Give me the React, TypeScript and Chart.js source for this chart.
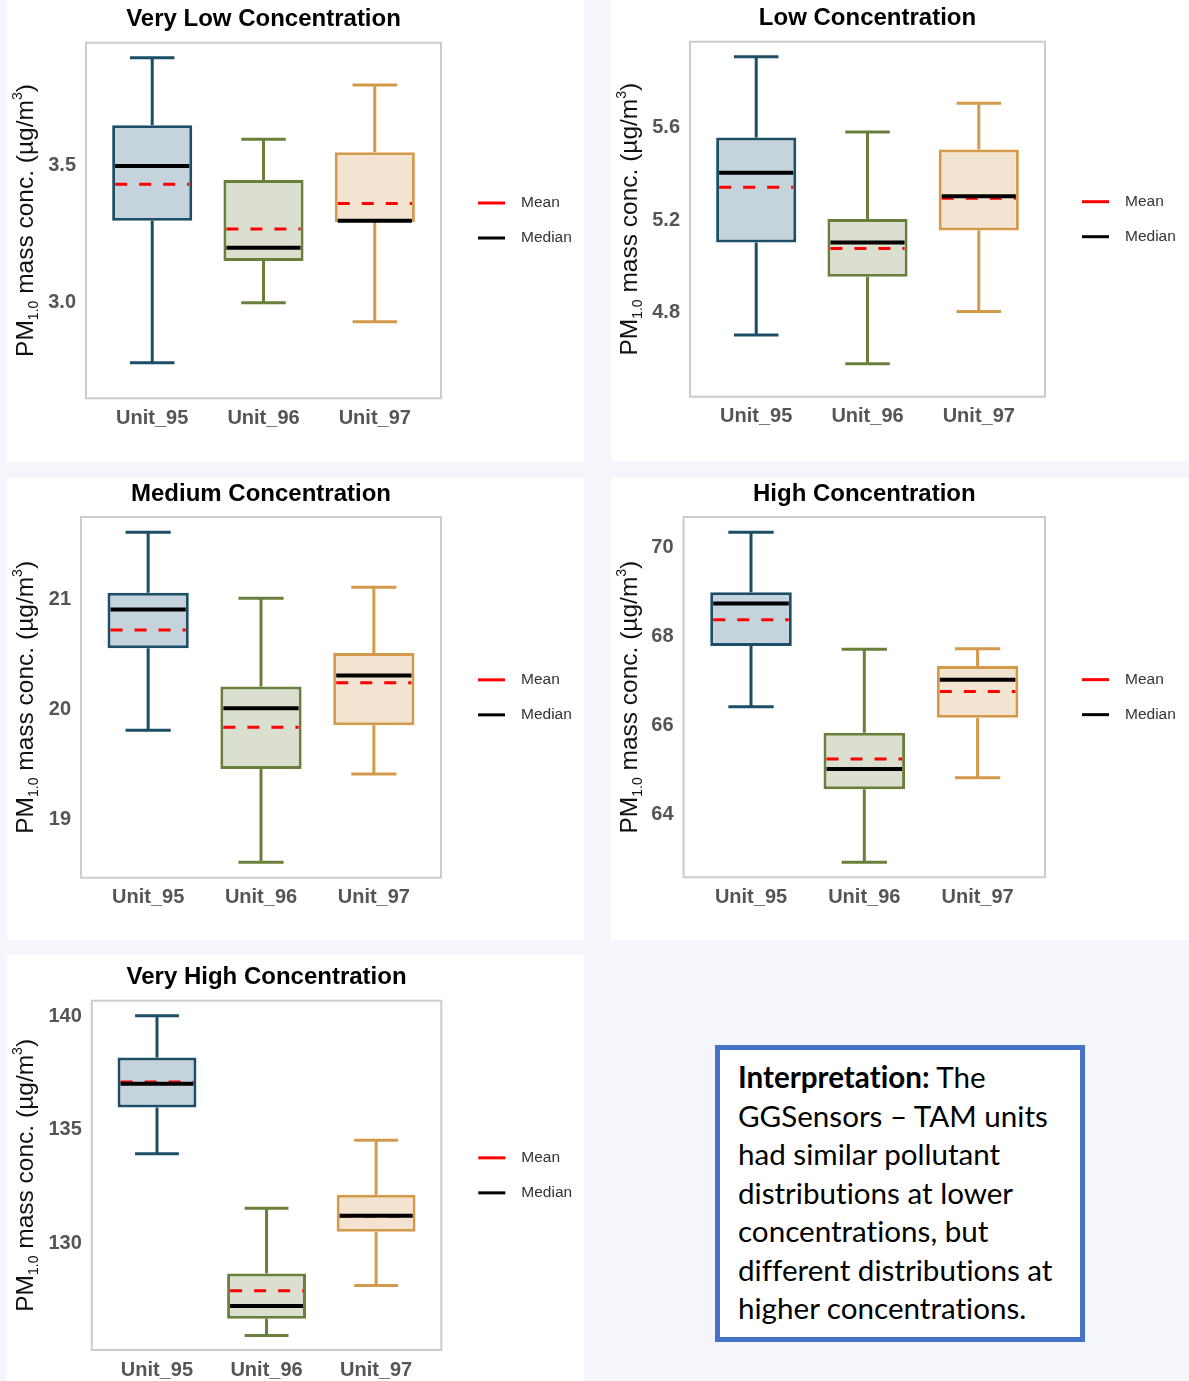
import React, { useEffect, useRef } from 'react';
import { Chart, registerables } from 'chart.js';

Chart.register(...registerables);

// ---------- data ----------
const categories = ['Unit_95', 'Unit_96', 'Unit_97'];
const panelTitles = [
  'Very Low Concentration',
  'Low Concentration',
  'Medium Concentration',
  'High Concentration',
  'Very High Concentration',
];

// Very Low
const veryLowMin = [2.78, 3.0, 2.93];
const veryLowQ1 = [3.3, 3.152, 3.295];
const veryLowMedian = [3.5, 3.201, 3.3];
const veryLowMean = [3.433, 3.269, 3.363];
const veryLowQ3 = [3.649, 3.449, 3.55];
const veryLowMax = [3.896, 3.598, 3.796];
const veryLowTicks = [3.0, 3.5];
const veryLowRange = [2.65, 3.951];

// Low
const lowMin = [4.702, 4.577, 4.803];
const lowQ1 = [5.102, 4.954, 5.154];
const lowMedian = [5.405, 5.103, 5.303];
const lowMean = [5.342, 5.077, 5.294];
const lowQ3 = [5.558, 5.204, 5.506];
const lowMax = [5.908, 5.581, 5.706];
const lowTicks = [4.8, 5.2, 5.6];
const lowRange = [4.434, 5.973];

// Medium
const mediumMin = [19.809, 18.609, 19.412];
const mediumQ1 = [20.555, 19.457, 19.855];
const mediumMedian = [20.906, 20.009, 20.306];
const mediumMean = [20.721, 19.836, 20.242];
const mediumQ3 = [21.06, 20.206, 20.512];
const mediumMax = [21.609, 21.009, 21.109];
const mediumTicks = [19, 20, 21];
const mediumRange = [18.469, 21.748];

// High
const highMin = [66.418, 62.92, 64.82];
const highQ1 = [67.78, 64.56, 66.17];
const highMedian = [68.737, 65.02, 67.025];
const highMean = [68.37, 65.24, 66.76];
const highQ3 = [68.989, 65.83, 67.33];
const highMax = [70.337, 67.71, 67.72];
const highTicks = [64, 66, 68, 70];
const highRange = [62.584, 70.681];

// Very High
const veryHighMin = [133.94, 125.95, 128.15];
const veryHighQ1 = [135.98, 126.68, 130.51];
const veryHighMedian = [137.02, 127.24, 131.22];
const veryHighMean = [137.1, 127.92, 131.2];
const veryHighQ3 = [138.18, 128.68, 132.14];
const veryHighMax = [140.01, 131.54, 134.53];
const veryHighTicks = [130, 135, 140];
const veryHighRange = [125.31, 140.673];

const legendLabels = ['Mean', 'Median'];

// ---------- styles / layout ----------
const FONT = "'Liberation Sans', Arial, sans-serif";
const boxStrokes = ['#1d4e68', '#6b7f3c', '#d39a4c'];
const boxFills = ['#c5d3dc', '#dadfd0', '#f2e4d0'];
const MEAN_COLOR = '#ff0000';
const MEDIAN_COLOR = '#000000';

type Stats = {
  min: number[]; q1: number[]; median: number[]; mean: number[]; q3: number[]; max: number[];
  ticks: number[]; range: number[]; decimals: number;
};

const panelStats: Stats[] = [
  { min: veryLowMin, q1: veryLowQ1, median: veryLowMedian, mean: veryLowMean, q3: veryLowQ3, max: veryLowMax, ticks: veryLowTicks, range: veryLowRange, decimals: 1 },
  { min: lowMin, q1: lowQ1, median: lowMedian, mean: lowMean, q3: lowQ3, max: lowMax, ticks: lowTicks, range: lowRange, decimals: 1 },
  { min: mediumMin, q1: mediumQ1, median: mediumMedian, mean: mediumMean, q3: mediumQ3, max: mediumMax, ticks: mediumTicks, range: mediumRange, decimals: 0 },
  { min: highMin, q1: highQ1, median: highMedian, mean: highMean, q3: highQ3, max: highMax, ticks: highTicks, range: highRange, decimals: 0 },
  { min: veryHighMin, q1: veryHighQ1, median: veryHighMedian, mean: veryHighMean, q3: veryHighQ3, max: veryHighMax, ticks: veryHighTicks, range: veryHighRange, decimals: 0 },
];

type Layout = { left: number; top: number; width: number; height: number; plot: { left: number; top: number; right: number; bottom: number } };

const panelLayouts: Layout[] = [
  { left: 7, top: 0, width: 577, height: 462, plot: { left: 79, top: 42.7, right: 434, bottom: 398.3 } },
  { left: 611, top: 0, width: 578, height: 461, plot: { left: 79, top: 41.7, right: 434, bottom: 396.7 } },
  { left: 7, top: 478, width: 577, height: 462, plot: { left: 74, top: 39, right: 434, bottom: 399.7 } },
  { left: 611, top: 478, width: 578, height: 462, plot: { left: 72.6, top: 39, right: 434, bottom: 399.3 } },
  { left: 7, top: 955, width: 577, height: 426, plot: { left: 84.8, top: 45.7, right: 434.3, bottom: 395 } },
];

function drawYLabel(ctx: CanvasRenderingContext2D, cx: number, cy: number) {
  const segs = [
    { t: 'PM', size: 24.5, dy: 0 },
    { t: '1.0', size: 14, dy: 5 },
    { t: ' mass conc. (µg/m', size: 24.5, dy: 0 },
    { t: '3', size: 14, dy: -11 },
    { t: ')', size: 24.5, dy: 0 },
  ];
  let total = 0;
  const widths = segs.map((s) => {
    ctx.font = `${s.size}px ${FONT}`;
    const w = ctx.measureText(s.t).width;
    total += w;
    return w;
  });
  ctx.save();
  ctx.translate(cx, cy);
  ctx.rotate(-Math.PI / 2);
  ctx.fillStyle = '#111111';
  ctx.textBaseline = 'alphabetic';
  ctx.textAlign = 'left';
  let x = -total / 2;
  segs.forEach((s, i) => {
    ctx.font = `${s.size}px ${FONT}`;
    ctx.fillText(s.t, x, s.dy);
    x += widths[i];
  });
  ctx.restore();
}

function makePlugin(stats: Stats, title: string) {
  return {
    id: 'boxExtras',
    afterDatasetsDraw(chart: any) {
      const ctx: CanvasRenderingContext2D = chart.ctx;
      const xs = chart.scales.x;
      const ys = chart.scales.y;
      const meta = chart.getDatasetMeta(0);
      ctx.save();
      categories.forEach((_, i) => {
        const bar = meta.data[i];
        const cx = bar.x;
        const half = bar.width / 2;
        const capL = xs.getPixelForValue(i - 0.2);
        const capR = xs.getPixelForValue(i + 0.2);
        ctx.strokeStyle = boxStrokes[i];
        ctx.lineWidth = 3;
        ctx.setLineDash([]);
        ctx.lineCap = 'butt';
        const yQ3 = ys.getPixelForValue(stats.q3[i]);
        const yQ1 = ys.getPixelForValue(stats.q1[i]);
        const yMax = ys.getPixelForValue(stats.max[i]);
        const yMin = ys.getPixelForValue(stats.min[i]);
        ctx.beginPath();
        ctx.moveTo(cx, yQ3);
        ctx.lineTo(cx, yMax);
        ctx.moveTo(capL, yMax);
        ctx.lineTo(capR, yMax);
        ctx.moveTo(cx, yQ1);
        ctx.lineTo(cx, yMin);
        ctx.moveTo(capL, yMin);
        ctx.lineTo(capR, yMin);
        ctx.stroke();
        // mean
        const yMean = ys.getPixelForValue(stats.mean[i]);
        ctx.strokeStyle = MEAN_COLOR;
        ctx.lineWidth = 3;
        ctx.setLineDash([12, 12]);
        ctx.beginPath();
        ctx.moveTo(cx - half + 3, yMean);
        ctx.lineTo(cx + half - 3, yMean);
        ctx.stroke();
        // median
        const yMed = ys.getPixelForValue(stats.median[i]);
        ctx.setLineDash([]);
        ctx.strokeStyle = MEDIAN_COLOR;
        ctx.lineWidth = 4;
        ctx.beginPath();
        ctx.moveTo(cx - half + 3, yMed);
        ctx.lineTo(cx + half - 3, yMed);
        ctx.stroke();
      });
      ctx.restore();
    },
    afterDraw(chart: any) {
      const ctx: CanvasRenderingContext2D = chart.ctx;
      const a = chart.chartArea;
      ctx.save();
      // frame
      ctx.strokeStyle = '#cccccc';
      ctx.lineWidth = 2;
      ctx.setLineDash([]);
      ctx.strokeRect(a.left, a.top, a.right - a.left, a.bottom - a.top);
      // title
      ctx.fillStyle = '#000000';
      ctx.font = `bold 24px ${FONT}`;
      ctx.textAlign = 'center';
      ctx.textBaseline = 'middle';
      ctx.fillText(title, (a.left + a.right) / 2, a.top - 23);
      // legend
      const midY = (a.top + a.bottom) / 2;
      const legendColors = [MEAN_COLOR, MEDIAN_COLOR];
      legendLabels.forEach((lab, k) => {
        const y = midY + (k === 0 ? -17.5 : 17.5);
        ctx.strokeStyle = legendColors[k];
        ctx.lineWidth = 3;
        ctx.beginPath();
        ctx.moveTo(a.right + 37, y);
        ctx.lineTo(a.right + 64, y);
        ctx.stroke();
        ctx.fillStyle = '#333333';
        ctx.font = `15.5px ${FONT}`;
        ctx.textAlign = 'left';
        ctx.textBaseline = 'middle';
        ctx.fillText(lab, a.right + 80, y);
      });
      ctx.restore();
      drawYLabel(ctx, 26, midY);
    },
  };
}

function Panel({ idx }: { idx: number }) {
  const ref = useRef<HTMLCanvasElement>(null);
  const L = panelLayouts[idx];
  const S = panelStats[idx];
  useEffect(() => {
    const chart = new Chart(ref.current as HTMLCanvasElement, {
      type: 'bar',
      data: {
        datasets: [
          {
            data: categories.map((_, i) => ({ x: i, y: [S.q1[i], S.q3[i]] })) as any,
            backgroundColor: boxFills,
            borderColor: boxStrokes,
            borderWidth: 3,
            borderSkipped: false,
            categoryPercentage: 0.8,
            barPercentage: 0.9,
          } as any,
        ],
      },
      options: {
        animation: false,
        responsive: false,
        maintainAspectRatio: false,
        devicePixelRatio: 1,
        events: [],
        layout: { padding: { left: 0, top: L.plot.top, right: L.width - L.plot.right, bottom: 0 } },
        plugins: { legend: { display: false }, title: { display: false }, tooltip: { enabled: false } },
        scales: {
          x: {
            type: 'linear',
            offset: false,
            min: -0.595,
            max: 2.595,
            grid: { display: false, drawTicks: false, offset: false },
            border: { display: false },
            afterBuildTicks: (s: any) => {
              s.ticks = categories.map((_, i) => ({ value: i }));
            },
            afterFit: (s: any) => {
              s.height = L.height - L.plot.bottom;
            },
            ticks: {
              autoSkip: false,
              maxRotation: 0,
              padding: 8,
              color: '#555555',
              font: { family: FONT, size: 20, weight: 'bold' },
              callback: (v: any) => categories[Math.round(Number(v))] ?? '',
            },
          },
          y: {
            type: 'linear',
            min: S.range[0],
            max: S.range[1],
            grid: { display: false, drawTicks: false },
            border: { display: false },
            afterBuildTicks: (s: any) => {
              s.ticks = S.ticks.map((v) => ({ value: v }));
            },
            afterFit: (s: any) => {
              s.width = L.plot.left;
            },
            ticks: {
              padding: 10,
              color: '#555555',
              font: { family: FONT, size: 20, weight: 'bold' },
              callback: (v: any) => Number(v).toFixed(S.decimals),
            },
          },
        } as any,
      },
      plugins: [makePlugin(S, panelTitles[idx])],
    });
    return () => chart.destroy();
  }, []);
  return (
    <canvas
      ref={ref}
      width={L.width}
      height={L.height}
      style={{ position: 'absolute', left: L.left, top: L.top, width: L.width, height: L.height, background: '#ffffff' }}
    />
  );
}

export default function App() {
  return (
    <div style={{ position: 'absolute', left: 0, top: 0, width: 1189, height: 1381, background: '#f4f6fb', overflow: 'hidden' }}>
      {panelLayouts.map((_, i) => (
        <Panel key={i} idx={i} />
      ))}
      <div
        style={{
          position: 'absolute',
          left: 715,
          top: 1045,
          width: 370,
          height: 297,
          boxSizing: 'border-box',
          border: '5px solid #4472c4',
          background: '#ffffff',
          padding: '8px 0 0 18px',
          fontFamily: "Lato, 'Open Sans', sans-serif",
          fontSize: 29.6,
          lineHeight: '38.5px',
          color: '#000000',
          whiteSpace: 'nowrap',
          fontVariantLigatures: 'none',
          fontFeatureSettings: '"liga" 0, "clig" 0',
        }}
      >
        <b>Interpretation:</b> The
        <br />
        GGSensors – TAM units
        <br />
        had similar pollutant
        <br />
        distributions at lower
        <br />
        concentrations, but
        <br />
        different distributions at
        <br />
        higher concentrations.
      </div>
    </div>
  );
}
